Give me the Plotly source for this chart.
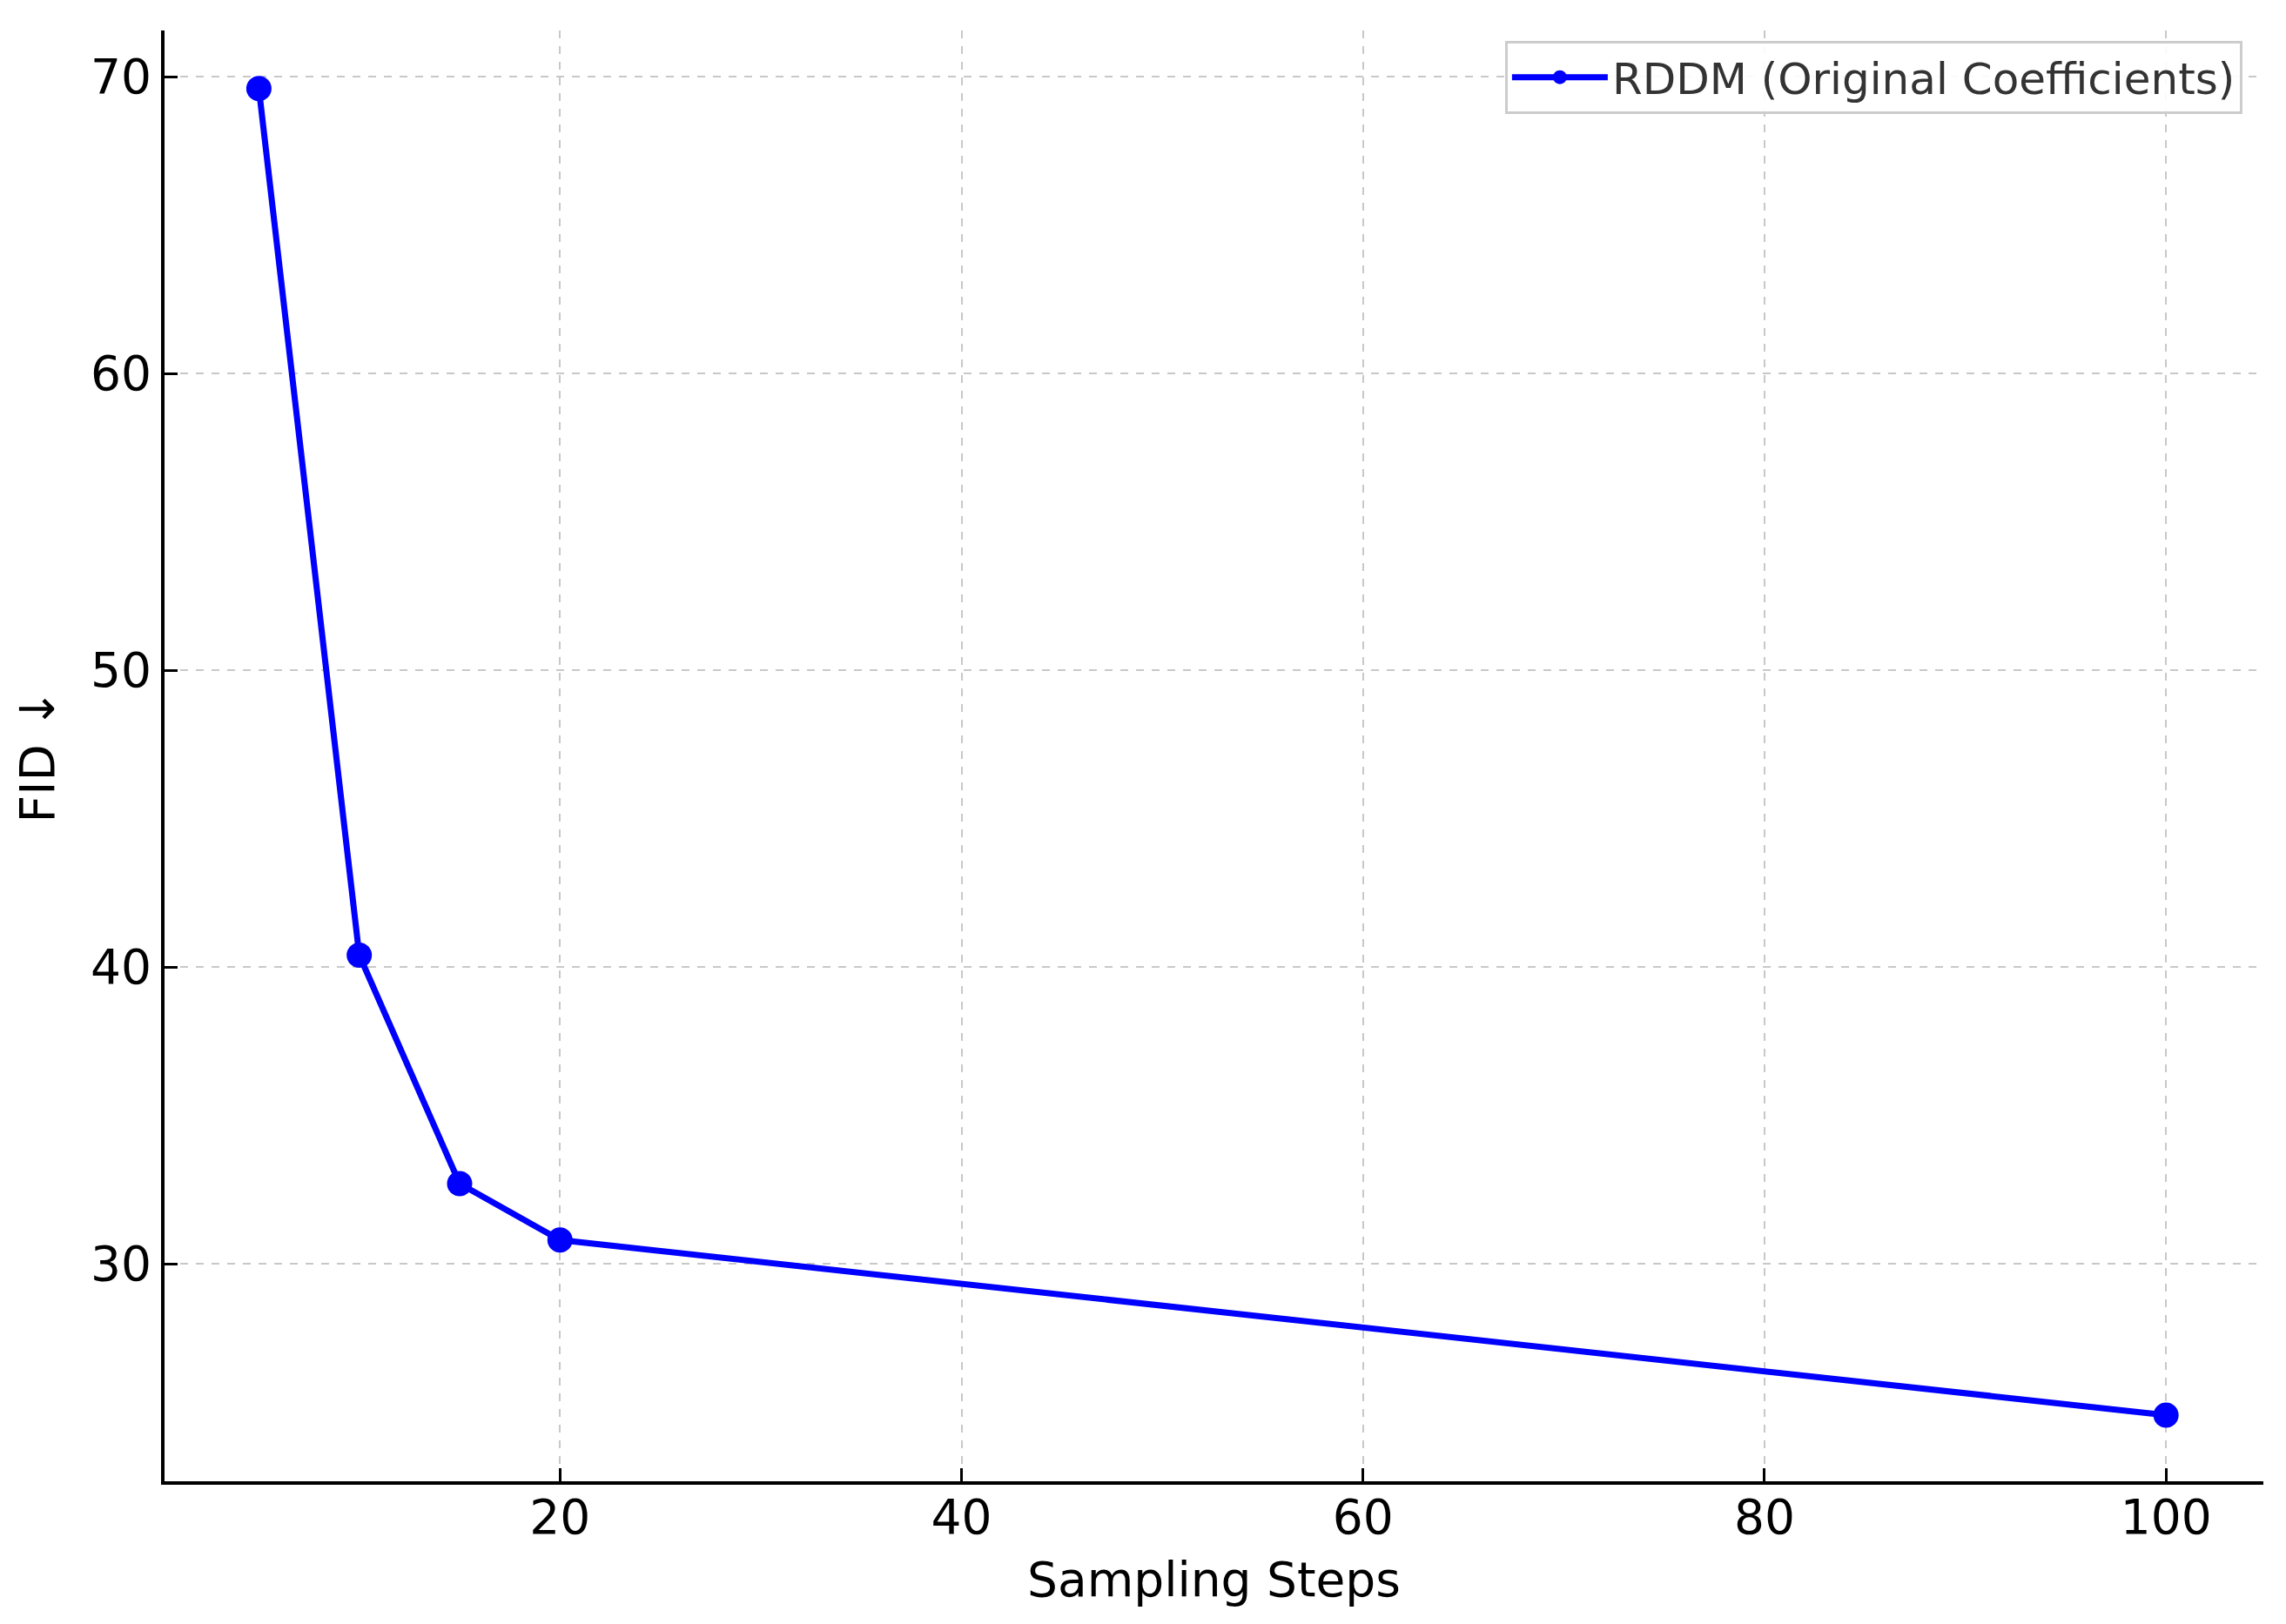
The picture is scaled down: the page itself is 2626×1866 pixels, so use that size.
import plotly.graph_objects as go

steps = [5, 10, 15, 20, 100]
fid = [69.6, 40.4, 32.7, 30.8, 24.9]

x_ticks = [20, 40, 60, 80, 100]
y_ticks = [30, 40, 50, 60, 70]

fig = go.Figure()
fig.add_trace(go.Scatter(
    x=steps, y=fid,
    mode="lines+markers",
    name="RDDM (Original Coefficients)",
    line=dict(color="#0000ff", width=7),
    marker=dict(color="#0000ff", size=29),
))

axis_style = dict(
    showline=True, linecolor="black", linewidth=4,
    ticks="inside", ticklen=15, tickwidth=3, tickcolor="black",
    showgrid=True, gridcolor="#c8c8c8", griddash="dash", gridwidth=2,
    zeroline=False, mirror=False,
    tickfont=dict(family="DejaVu Sans", size=55, color="black"),
)

fig.update_xaxes(
    range=[0.3, 104.85], tickvals=x_ticks, ticklabelstandoff=-10,
    title=dict(text="Sampling Steps", font=dict(family="DejaVu Sans", size=55, color="black"), standoff=22),
    **axis_style,
)
fig.update_yaxes(
    range=[22.67, 71.56], tickvals=y_ticks,
    title=dict(text="FID ↓", font=dict(family="DejaVu Sans", size=55, color="black"), standoff=25),
    **axis_style,
)

fig.update_layout(
    width=2626, height=1866,
    margin=dict(l=181, r=34, t=27, b=172),
    plot_bgcolor="white", paper_bgcolor="white",
    showlegend=True,
    legend=dict(
        x=0.99, y=0.993, xanchor="right", yanchor="top",
        bgcolor="rgba(255,255,255,0.9)", bordercolor="#cccccc", borderwidth=3,
        font=dict(family="DejaVu Sans", size=50, color="#333333"),
        itemwidth=110,
    ),
)

fig.write_html("out.html")
